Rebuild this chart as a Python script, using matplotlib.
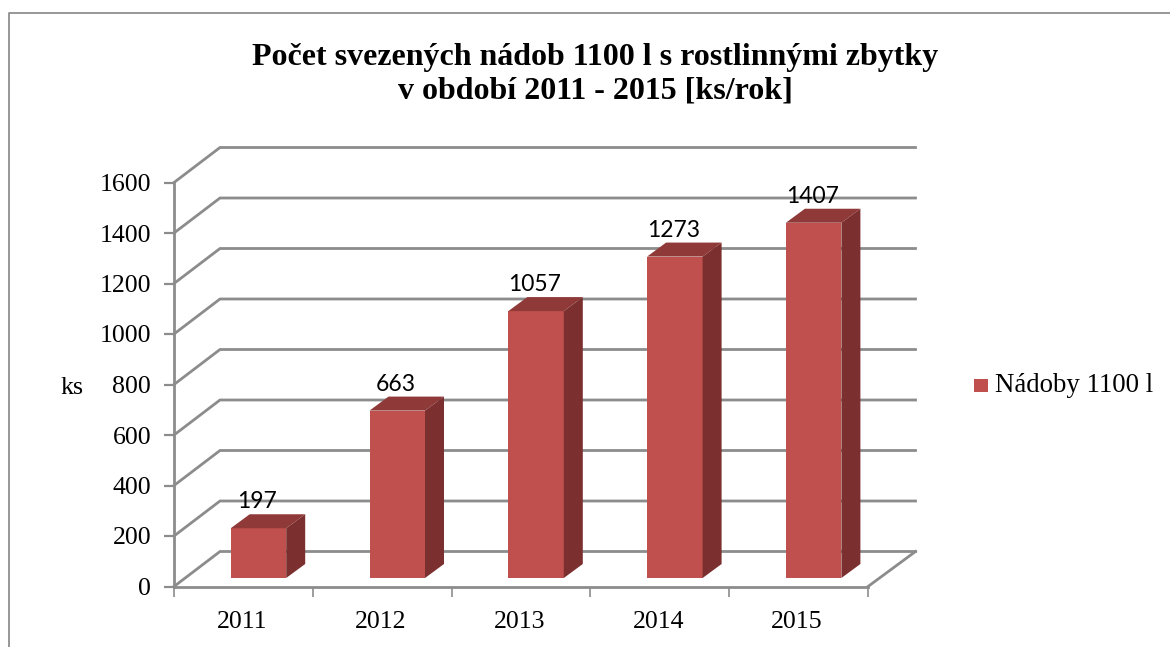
import matplotlib
matplotlib.use("Agg")
import matplotlib.pyplot as plt
from matplotlib.patches import Polygon, Rectangle

years = ["2011", "2012", "2013", "2014", "2015"]
values = [197, 663, 1057, 1273, 1407]
y_ticks = [0, 200, 400, 600, 800, 1000, 1200, 1400, 1600]
title = "Počet svezených nádob 1100 l s rostlinnými zbytky\nv období 2011 - 2015 [ks/rok]"
series_name = "Nádoby 1100 l"

W, H = 1170, 647
SERIF = "Liberation Serif"
GRID = "#8c8c8c"
FRONT, TOP, SIDE = "#c0504d", "#8f3a38", "#7b2f2e"

fig = plt.figure(figsize=(W / 100, H / 100), dpi=100)
bg = fig.add_axes([0, 0, 1, 1])
bg.set_xlim(0, W); bg.set_ylim(H, 0); bg.axis("off")
bg.plot([8.5, 8.5, 1170], [647, 13, 13], color="#8f8f8f", lw=1.3)

L, R, T, B = 174, 868, 182.5, 586.5
ax = fig.add_axes([L / W, 1 - B / H, (R - L) / W, (B - T) / H])
ax.set_xlim(0, len(years))
ax.set_ylim(0, 1600)
ax.patch.set_alpha(0)
for s in ("top", "right"):
    ax.spines[s].set_visible(False)
for s in ("left", "bottom"):
    ax.spines[s].set_color(GRID)
    ax.spines[s].set_linewidth(2)

ux = len(years) / (R - L)   # data units per pixel, x
uy = 1600 / (B - T)         # data units per pixel, y
DX, DY = 46 * ux, 35 * uy   # wall depth
END = len(years) + 47.5 * ux

# back-wall gridlines with their diagonal links to the front axis
for v in y_ticks:
    ax.plot([0, DX, END], [v, v + DY, v + DY], color=GRID, lw=2,
            clip_on=False, solid_joinstyle="miter", zorder=1)
ax.plot([len(years), END], [0, DY], color=GRID, lw=2, clip_on=False, zorder=1)

# 3D columns
bx, bw = 56.7 * ux, 55.5 * ux
base = 8.5 * uy
ox, oy = 19 * ux, 14 * uy
for i, v in enumerate(values):
    x0 = i + bx
    x1 = x0 + bw
    ax.add_patch(Rectangle((x0, base), bw, v, fc=FRONT, ec="none", zorder=3, clip_on=False))
    ax.add_patch(Polygon([(x0, base + v), (x1, base + v), (x1 + ox, base + v + oy), (x0 + ox, base + v + oy)],
                         fc=TOP, ec="none", zorder=3, clip_on=False))
    ax.add_patch(Polygon([(x1, base), (x1 + ox, base + oy), (x1 + ox, base + v + oy), (x1, base + v)],
                         fc=SIDE, ec="none", zorder=3, clip_on=False))
    ax.text(x0 + bw / 2 - 1.5 * ux, base + v + oy + 2 * uy, str(v), ha="center", va="bottom",
            family="Lato", fontsize=16.5, color="black", zorder=4, clip_on=False)

ax.set_yticks(y_ticks)
ax.set_yticklabels([str(v) for v in y_ticks], family=SERIF, fontsize=18.6)
ax.set_xticks(range(len(years) + 1))
ax.set_xticklabels([""] * (len(years) + 1))
for i, y in enumerate(years):
    ax.text(i + 0.5 - 1.5 * ux, -35 * uy, y, ha="center", va="center", family=SERIF, fontsize=18.6)
ax.tick_params(axis="y", color=GRID, width=1.6, length=7.5, pad=9)
ax.tick_params(axis="x", color=GRID, width=1.2, length=7)

bg.text(72, 388, "ks", ha="center", va="center", family=SERIF, fontsize=18.6)
bg.text(595, 74.5, title, ha="center", va="center", family=SERIF, fontsize=23,
        fontweight="bold", linespacing=1.19)
bg.add_patch(Rectangle((974, 379), 14, 13, fc=FRONT, ec="none"))
bg.text(995, 385, series_name, ha="left", va="center", family=SERIF, fontsize=19.3)

fig.savefig("out.png", dpi=100)
